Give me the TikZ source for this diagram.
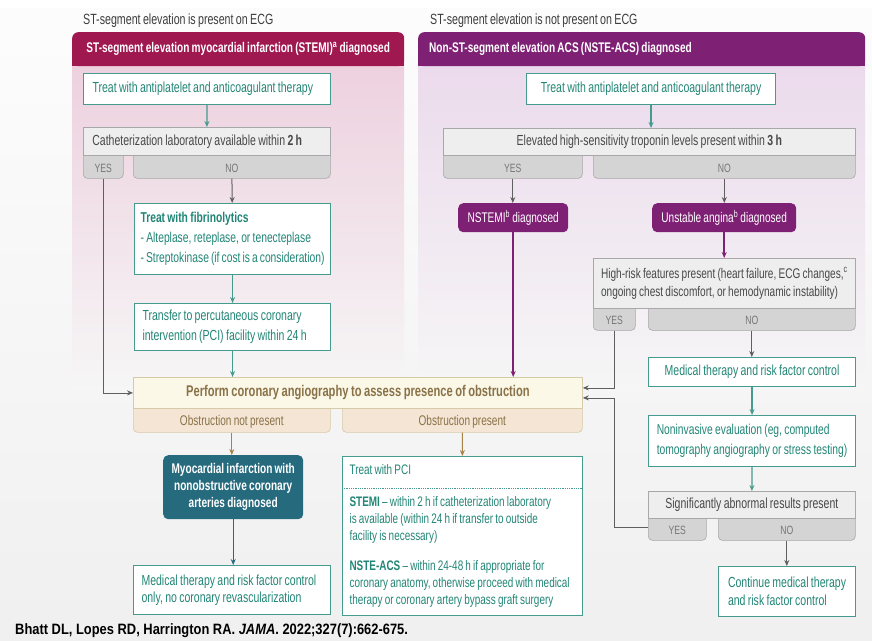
\documentclass[tikz,border=0pt]{standalone}
\usepackage{fontspec}
\setmainfont{Liberation Sans}[FakeStretch=0.72, WordSpace=0.8]
\newfontfamily\citefont{Liberation Sans}[FakeStretch=0.86]
\usetikzlibrary{arrows.meta}
\definecolor{stemired}{RGB}{160,24,80}
\definecolor{nstepurple}{RGB}{126,32,116}
\definecolor{stemipink}{RGB}{237,208,222}
\definecolor{nstelilac}{RGB}{235,218,236}
\definecolor{tealline}{RGB}{70,155,143}
\definecolor{tealtext}{RGB}{34,134,118}
\definecolor{boxgray}{RGB}{238,238,238}
\definecolor{tabgray}{RGB}{212,212,212}
\definecolor{linegray}{RGB}{168,168,168}
\definecolor{textgray}{RGB}{72,72,72}
\definecolor{tabtext}{RGB}{118,118,118}
\definecolor{arrowgray}{RGB}{95,95,95}
\definecolor{angiofill}{RGB}{251,248,232}
\definecolor{angioline}{RGB}{214,203,168}
\definecolor{angiotext}{RGB}{138,114,72}
\definecolor{obstab}{RGB}{244,229,212}
\definecolor{tanarrow}{RGB}{165,132,70}
\definecolor{minocacol}{RGB}{38,106,126}
\begin{document}
\begin{tikzpicture}[x=1pt, y=-1pt,
    every node/.style={inner sep=0pt, anchor=north west},
    tightspace/.style={execute at begin node={\spaceskip 0pt\xspaceskip 0pt\relax}},
    body/.style={font=\fontsize{14.6}{18}\selectfont, tightspace},
    tealbox/.style={body, draw=tealline, line width=1.1pt, fill=white, text=tealtext, inner xsep=4pt, align=left},
    graybox/.style={body, draw=linegray, line width=0.7pt, fill=boxgray, text=textgray, inner xsep=4pt, align=left},
    graytab/.style={draw=linegray, line width=0.6pt, fill=tabgray, text=tabtext, rounded corners=4pt,
      font=\fontsize{12}{14}\selectfont, text height=15pt, text depth=0pt},
    obtab/.style={graytab, draw=angioline, fill=obstab, text=angiotext, font=\fontsize{14}{16}\selectfont},
    angiobox/.style={draw=angioline, line width=0.8pt, fill=angiofill, text=angiotext,
      font=\bfseries\fontsize{15.5}{18}\selectfont},
    header/.style={font=\bfseries\fontsize{14}{17}\selectfont, text=white, rounded corners=6pt,
      inner xsep=4pt, align=left, minimum height=34pt, tightspace},
    diagbox/.style={font=\fontsize{14}{17}\selectfont, text=white, rounded corners=5pt, align=center},
    toplabel/.style={font=\fontsize{14.8}{18}\selectfont, text=textgray!85!black, anchor=base west},
    tealarr/.style={draw=tealline, line width=1.3pt, -{Stealth[length=6pt, width=5pt]}},
    grayarr/.style={draw=arrowgray, line width=1pt, -{Stealth[length=6pt, width=5pt]}},
    yesline/.style={draw=arrowgray, line width=0.8pt, -{Stealth[length=6pt, width=5pt]}},
    purparr/.style={draw=nstepurple, line width=1.5pt, -{Stealth[length=6pt, width=5pt]}},
    tanarr/.style={draw=tanarrow, line width=1pt, -{Stealth[length=6pt, width=5pt]}},
    minocaarr/.style={draw=minocacol, line width=1.2pt, -{Stealth[length=6pt, width=5pt]}},
  ]
  \useasboundingbox (0,0) rectangle (872,640);
  \fill[white] (0,0) rectangle (872,8);
  \shade[top color=gray!2, bottom color=gray!12] (0,8) rectangle (872,640);
  \shade[top color=stemipink, middle color=stemipink!50!white, bottom color=gray!7] (72,60) rectangle (404,390);
  \shade[top color=nstelilac, middle color=nstelilac!50!white, bottom color=gray!7] (418,60) rectangle (865,390);
  \fill[stemired] (72,50) rectangle (404,66);
  \fill[nstepurple] (418,50) rectangle (865,66);

  \node[toplabel] (stlbl) at (83,24) {ST-segment elevation is present on ECG};
  \node[toplabel] (nstlbl) at (430,24) {ST-segment elevation is not present on ECG};
  \node[header, fill=stemired, minimum width=332pt] (stemihd) at (72,32)
    {ST-segment elevation myocardial infarction (STEMI)\textsuperscript{a} diagnosed};
  \node[header, fill=nstepurple, minimum width=447pt, text width=425pt, inner xsep=11pt] (nstehd) at (418,32)
    {Non-ST-segment elevation ACS (NSTE-ACS) diagnosed};

  \node[tealbox, minimum width=247pt, minimum height=31pt, text width=229pt, inner xsep=9pt] (stemitx) at (83,73)
    {Treat with antiplatelet and anticoagulant therapy};
  \node[graytab, minimum width=40pt, minimum height=27pt] (cathyes) at (83,151) {YES};
  \node[graytab, minimum width=197pt, minimum height=27pt] (cathno) at (133,151) {NO};
  \node[graybox, minimum width=247pt, minimum height=28pt, text width=229pt, inner xsep=9pt] (cath) at (83,127)
    {Catheterization laboratory available within \textbf{2 h}};
  \node[tealbox, minimum width=196pt, minimum height=71pt, text width=184pt, inner xsep=6pt,
    font=\fontsize{14.3}{20}\selectfont] (fibrino) at (134,203)
    {\textbf{Treat with fibrinolytics}\\- Alteplase, reteplase, or tenecteplase\\- Streptokinase (if cost is a consideration)};
  \node[tealbox, minimum width=196pt, minimum height=47pt, text width=180pt, inner xsep=8pt,
    font=\fontsize{14.6}{20}\selectfont] (transfer) at (134,303)
    {Transfer to percutaneous coronary\\intervention (PCI) facility within 24 h};

  \node[obtab, minimum width=197pt, minimum height=28pt] (noobst) at (133,404) {Obstruction not present};
  \node[obtab, minimum width=240pt, minimum height=28pt] (obst) at (342,404) {Obstruction present};
  \node[angiobox, minimum width=449pt, minimum height=31pt] (angio) at (133,377)
    {Perform coronary angiography to assess presence of obstruction};
  \node[diagbox, fill=minocacol, font=\bfseries\fontsize{14}{17}\selectfont, minimum width=140pt,
    minimum height=64pt] (minoca) at (163,455)
    {Myocardial infarction with\\nonobstructive coronary\\arteries diagnosed};
  \node[tealbox, minimum width=197pt, minimum height=49pt, text width=181pt, inner xsep=8pt,
    font=\fontsize{14.6}{17}\selectfont] (medonly) at (133,565)
    {Medical therapy and risk factor control\\only, no coronary revascularization};
  \node[tealbox, minimum width=240pt, minimum height=159pt, text width=226pt, inner xsep=7pt,
    font=\fontsize{13.8}{17}\selectfont] (pci) at (342,456)
    {Treat with PCI\\[15pt]
     \textbf{STEMI} -- within 2 h if catheterization laboratory\\
     is available (within 24 h if transfer to outside\\
     facility is necessary)\\[13pt]
     \textbf{NSTE-ACS} -- within 24-48 h if appropriate for\\
     coronary anatomy, otherwise proceed with medical\\
     therapy or coronary artery bypass graft surgery};
  \draw[tealline, densely dotted, line width=0.8pt] ([yshift=-32pt]pci.north west) -- ([yshift=-32pt]pci.north east);

  \node[tealbox, minimum width=249pt, minimum height=31pt] (nstetx) at (526,73)
    {Treat with antiplatelet and anticoagulant therapy};
  \node[graytab, minimum width=139pt, minimum height=27pt] (tropyes) at (443,151) {YES};
  \node[graytab, minimum width=262pt, minimum height=27pt] (tropno) at (593,151) {NO};
  \node[graybox, minimum width=412pt, minimum height=27pt] (trop) at (443,128)
    {Elevated high-sensitivity troponin levels present within \textbf{3 h}};
  \node[diagbox, fill=nstepurple, minimum width=110pt, minimum height=29pt] (nstemi) at (458,203)
    {NSTEMI\textsuperscript{b} diagnosed};
  \node[diagbox, fill=nstepurple, minimum width=144pt, minimum height=29pt] (ua) at (652,203)
    {Unstable angina\textsuperscript{b} diagnosed};
  \node[graytab, minimum width=42pt, minimum height=26pt] (hryes) at (593,304) {YES};
  \node[graytab, minimum width=207pt, minimum height=26pt] (hrno) at (648,304) {NO};
  \node[graybox, minimum width=262pt, minimum height=50pt, font=\fontsize{14}{18}\selectfont] (hr) at (593,258)
    {High-risk features present (heart failure, ECG changes,\textsuperscript{c}\\ongoing chest discomfort, or hemodynamic instability)};
  \node[tealbox, minimum width=207pt, minimum height=29pt] (medctl) at (648,357)
    {Medical therapy and risk factor control};
  \node[tealbox, minimum width=207pt, minimum height=51pt, font=\fontsize{14.3}{20}\selectfont] (noninv) at (648,415)
    {Noninvasive evaluation (eg, computed\\tomography angiography or stress testing)};
  \node[graytab, minimum width=58pt, minimum height=26pt] (sigyes) at (648,514) {YES};
  \node[graytab, minimum width=137pt, minimum height=26pt] (signo) at (718,514) {NO};
  \node[graybox, minimum width=207pt, minimum height=27pt] (sig) at (648,491)
    {Significantly abnormal results present};
  \node[tealbox, minimum width=137pt, minimum height=50pt] (contmed) at (718,566)
    {Continue medical therapy\\and risk factor control};

  \node[anchor=base west, font=\citefont\bfseries\fontsize{15}{18}\selectfont] (cite) at (15,634)
    {Bhatt DL, Lopes RD, Harrington RA. \textit{JAMA}. 2022;327(7):662-675.};

  \draw[tealarr] (stemitx) -- (cath);
  \draw[grayarr] (cathno) -- (fibrino);
  \draw[tealarr] (fibrino) -- (transfer);
  \draw[tealarr] (transfer) -- (transfer |- angio.north);
  \draw[yesline] (cathyes) |- (angio);
  \draw[tanarr] (noobst) -- (noobst |- minoca.north);
  \draw[tanarr] (obst) -- (pci);
  \draw[minocaarr] (minoca) -- (minoca |- medonly.north);
  \draw[tealarr] (nstetx) -- (nstetx |- trop.north);
  \draw[grayarr] (tropyes) -- (tropyes |- nstemi.north);
  \draw[grayarr] (tropno) -- (tropno |- ua.north);
  \draw[purparr] (nstemi) -- (nstemi |- angio.north);
  \draw[purparr] (ua) -- (ua |- hr.north);
  \draw[yesline] (hryes) |- ([yshift=5pt]angio.east);
  \draw[grayarr] (hrno) -- (hrno |- medctl.north);
  \draw[tealarr] (medctl) -- (noninv);
  \draw[tealarr] (noninv) -- (sig);
  \draw[grayarr] (signo) -- (signo |- contmed.north);
  \draw[yesline] (sigyes.west) -- (sigyes.west -| hryes.south) |- ([yshift=-5pt]angio.east);
\end{tikzpicture}
\end{document}
